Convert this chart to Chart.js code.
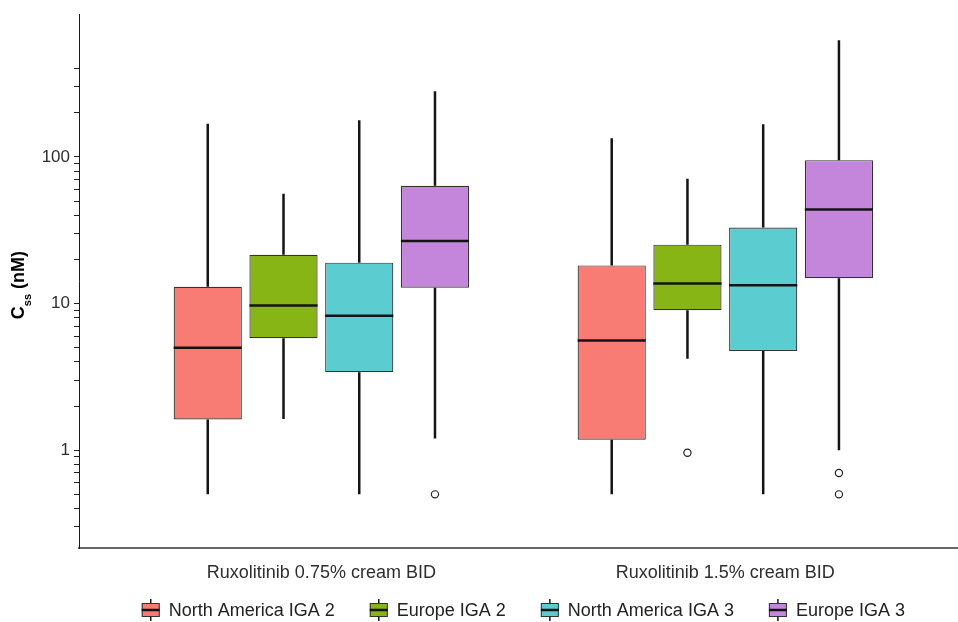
<!DOCTYPE html>
<html>
<head>
<meta charset="utf-8">
<title>Ruxolitinib steady-state concentration</title>
<script src="https://cdn.jsdelivr.net/npm/chart.js@4.4.1/dist/chart.umd.min.js"></script>
<style>
  html, body { margin: 0; padding: 0; background: #ffffff; }
  #wrap { width: 958px; height: 622px; position: relative; }
</style>
</head>
<body>
<div id="wrap"><canvas id="c" width="958" height="622"></canvas></div>
<script>
// Dose groups on the x axis (placed at positions 1 and 2)
const groups = ['Ruxolitinib 0.75% cream BID', 'Ruxolitinib 1.5% cream BID'];
const groupPositions = [1, 2];

// Region / severity series
const seriesNames = ['North America IGA 2', 'Europe IGA 2', 'North America IGA 3', 'Europe IGA 3'];
const seriesColors = ['#F97C74', '#88B516', '#5BCCD0', '#C386DA'];

// Box statistics, indexed [series][group], Css in nM
const whiskerLow  = [[0.5, 0.5], [1.63, 4.2], [0.5, 0.5], [1.2, 1.0]];
const hingeLow    = [[1.62, 1.18], [5.8, 9.0], [3.4, 4.75], [12.8, 14.9]];
const medians     = [[5.0, 5.6], [9.7, 13.7], [8.25, 13.3], [26.7, 43.8]];
const hingeHigh   = [[13.0, 18.2], [21.5, 25.2], [19.0, 33.0], [63.5, 95.0]];
const whiskerHigh = [[168, 134], [56, 71], [178, 167], [280, 625]];
const outliers    = [[[], []], [[], [0.96]], [[], []], [[0.5], [0.7, 0.5]]];

// Log axis: labelled decades and the minor tick marks
const yTickLabels = [1, 10, 100];
const yTickMarks = [0.3, 0.4, 0.5, 0.6, 0.7, 0.8, 0.9, 1, 2, 3, 4, 5, 6, 7, 8, 9,
                    10, 20, 30, 40, 50, 60, 70, 80, 90, 100, 200, 300, 400];

const FONT = "'Liberation Sans', Arial, Helvetica, sans-serif";
const INK = '#141414';

// Whiskers, medians and outlying points, positioned from each box element
const boxWhiskers = {
  id: 'boxWhiskers',
  afterDatasetsDraw(chart) {
    const ctx = chart.ctx;
    const y = chart.scales.y;
    chart.data.datasets.forEach((ds, s) => {
      const meta = chart.getDatasetMeta(s);
      meta.data.forEach((bar, g) => {
        const { x, width } = bar.getProps(['x', 'width'], true);
        const top = y.getPixelForValue(hingeHigh[s][g]);
        const bottom = y.getPixelForValue(hingeLow[s][g]);
        ctx.save();
        ctx.strokeStyle = INK;
        ctx.lineWidth = 2.5;
        ctx.lineCap = 'butt';
        ctx.beginPath();
        ctx.moveTo(x, top);
        ctx.lineTo(x, y.getPixelForValue(whiskerHigh[s][g]));
        ctx.moveTo(x, bottom);
        ctx.lineTo(x, y.getPixelForValue(whiskerLow[s][g]));
        ctx.stroke();
        const m = y.getPixelForValue(medians[s][g]);
        ctx.beginPath();
        ctx.moveTo(x - width / 2, m);
        ctx.lineTo(x + width / 2, m);
        ctx.stroke();
        ctx.lineWidth = 1.2;
        ctx.strokeStyle = '#222';
        ctx.fillStyle = '#ffffff';
        outliers[s][g].forEach(v => {
          ctx.beginPath();
          ctx.arc(x, y.getPixelForValue(v), 3.6, 0, Math.PI * 2);
          ctx.fill();
          ctx.stroke();
        });
        ctx.restore();
      });
    });
  }
};

// Rotated y-axis title with a subscript
const yTitle = {
  id: 'yTitle',
  afterDraw(chart) {
    const ctx = chart.ctx;
    const area = chart.chartArea;
    const parts = [
      { t: 'C', size: 18, dy: 0 },
      { t: 'ss', size: 11, dy: 7 },
      { t: ' (nM)', size: 18, dy: 0 }
    ];
    ctx.save();
    let total = 0;
    parts.forEach(p => {
      ctx.font = `bold ${p.size}px ${FONT}`;
      p.w = ctx.measureText(p.t).width;
      total += p.w;
    });
    ctx.translate(24, (area.top + area.bottom) / 2 + 4);
    ctx.rotate(-Math.PI / 2);
    ctx.fillStyle = '#000';
    ctx.textBaseline = 'alphabetic';
    ctx.textAlign = 'left';
    let u = -total / 2;
    parts.forEach(p => {
      ctx.font = `bold ${p.size}px ${FONT}`;
      ctx.fillText(p.t, u, p.dy);
      u += p.w;
    });
    ctx.restore();
  }
};

// Legend with a small box-and-whisker key, centred under the panel
const boxLegend = {
  id: 'boxLegend',
  afterDraw(chart) {
    const ctx = chart.ctx;
    const xs = chart.scales.x;
    const keyW = 18, gapText = 9, gapItem = 35, cy = 610;
    ctx.save();
    ctx.font = `18px ${FONT}`;
    const widths = seriesNames.map(n => ctx.measureText(n).width);
    const total = widths.reduce((a, w) => a + keyW + gapText + w, 0) + gapItem * (seriesNames.length - 1);
    let left = xs.getPixelForValue(1.5) - total / 2;
    seriesNames.forEach((name, i) => {
      const cx = left + keyW / 2;
      ctx.strokeStyle = INK;
      ctx.lineWidth = 1.5;
      ctx.beginPath();
      ctx.moveTo(cx, cy - 11);
      ctx.lineTo(cx, cy + 11);
      ctx.stroke();
      ctx.fillStyle = seriesColors[i];
      ctx.fillRect(left, cy - 7, keyW, 14);
      ctx.lineWidth = 1;
      ctx.strokeStyle = '#333';
      ctx.strokeRect(left + 0.5, cy - 6.5, keyW - 1, 13);
      ctx.strokeStyle = INK;
      ctx.lineWidth = 2.5;
      ctx.beginPath();
      ctx.moveTo(left, cy);
      ctx.lineTo(left + keyW, cy);
      ctx.stroke();
      ctx.fillStyle = '#222';
      ctx.textBaseline = 'middle';
      ctx.textAlign = 'left';
      ctx.fillText(name, left + keyW + gapText, cy + 1);
      left += keyW + gapText + widths[i] + gapItem;
    });
    ctx.restore();
  }
};

const datasets = seriesNames.map((name, s) => ({
  label: name,
  data: groupPositions.map((pos, g) => ({ x: pos, y: [hingeLow[s][g], hingeHigh[s][g]] })),
  backgroundColor: seriesColors[s],
  borderColor: '#333333',
  borderWidth: 1.2,
  borderSkipped: false,
  categoryPercentage: 0.75,
  barPercentage: 0.9
}));

new Chart(document.getElementById('c'), {
  type: 'bar',
  data: { datasets },
  plugins: [boxWhiskers, yTitle, boxLegend],
  options: {
    responsive: false,
    animation: false,
    layout: { padding: { top: 13, right: 0, bottom: 34, left: 0 } },
    plugins: { legend: { display: false }, tooltip: { enabled: false } },
    scales: {
      x: {
        type: 'linear',
        offset: false,
        min: 0.4,
        max: 2.576,
        afterBuildTicks: s => { s.ticks = groupPositions.map(v => ({ value: v })); },
        afterFit: s => { s.height = 40; },
        ticks: {
          callback: v => groups[groupPositions.indexOf(v)] ?? '',
          font: { family: FONT, size: 18 },
          color: '#2e2e2e',
          padding: 14,
          autoSkip: false,
          maxRotation: 0
        },
        grid: { display: false, drawTicks: false, offset: false },
        border: { display: true, color: '#666666', width: 2 }
      },
      y: {
        type: 'logarithmic',
        min: 0.2154,
        max: 939,
        afterBuildTicks: s => { s.ticks = yTickMarks.map(v => ({ value: v })); },
        afterFit: s => { s.width = 79; },
        ticks: {
          callback: v => yTickLabels.includes(v) ? String(v) : '',
          font: { family: FONT, size: 17 },
          color: '#2e2e2e',
          padding: 4,
          autoSkip: false
        },
        grid: { drawOnChartArea: false, drawTicks: true, tickLength: 5, tickColor: '#222', tickWidth: 1 },
        border: { display: true, color: '#1a1a1a', width: 1 }
      }
    }
  }
});
</script>
</body>
</html>
